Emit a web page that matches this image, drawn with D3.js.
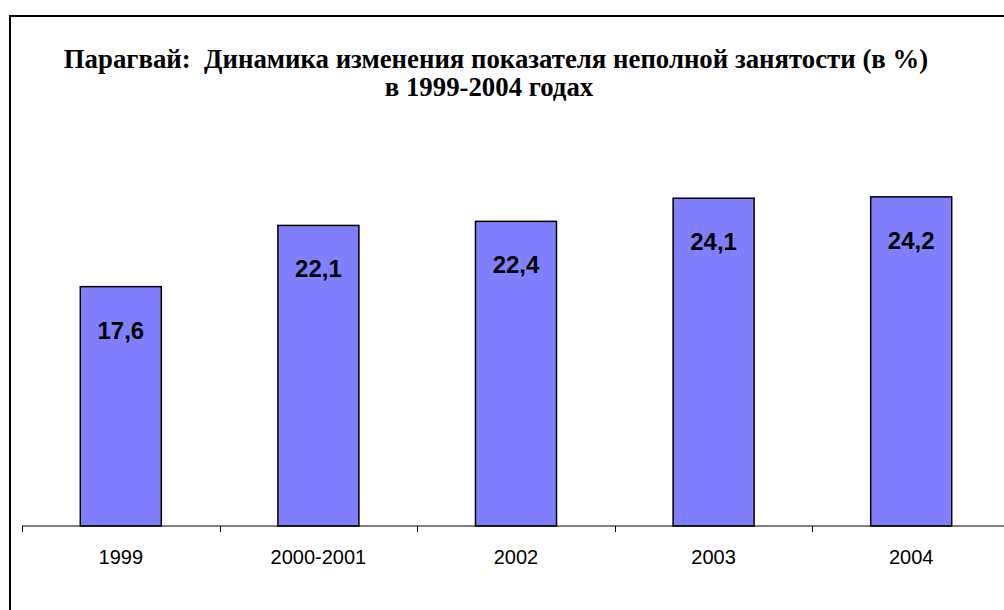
<!DOCTYPE html>
<html>
<head>
<meta charset="utf-8">
<script src="https://cdn.jsdelivr.net/npm/d3@7"></script>
<style>
  html, body { margin: 0; padding: 0; background: #fff; }
  svg { display: block; }
</style>
</head>
<body>
<svg id="chart" width="1004" height="610"></svg>
<script>
const categories = ["1999", "2000-2001", "2002", "2003", "2004"];
const values = [17.6, 22.1, 22.4, 24.1, 24.2];
const valueLabels = ["17,6", "22,1", "22,4", "24,1", "24,2"];
const titleLines = [
  "Парагвай:  Динамика изменения показателя неполной занятости (в %)",
  "в 1999-2004 годах"
];

const svg = d3.select("#chart");

// outer frame
svg.append("rect")
  .attr("x", 10).attr("y", 16)
  .attr("width", 1010).attr("height", 620)
  .attr("fill", "none").attr("stroke", "#000").attr("stroke-width", 2);

const x0 = 22, x1 = 1010, yBase = 526;
const x = d3.scaleBand().domain(categories).range([x0, x1]).paddingInner(0.59).paddingOuter(0.295);
const xb = d3.scaleBand().domain(categories).range([x0, x1]);
const y = d3.scaleLinear().domain([0, 30]).range([yBase, yBase - 408]);

// title
const titleY = [68, 96];
const titleX = [496, 489];
svg.selectAll("text.title")
  .data(titleLines)
  .join("text")
  .attr("class", "title")
  .attr("x", (d, i) => titleX[i])
  .attr("y", (d, i) => titleY[i])
  .attr("text-anchor", "middle")
  .attr("font-family", "'Liberation Serif', 'Times New Roman', serif")
  .attr("font-weight", "bold")
  .attr("font-size", 26.8)
  .style("white-space", "pre")
  .text(d => d);

// bars
svg.selectAll("rect.bar")
  .data(values)
  .join("rect")
  .attr("class", "bar")
  .attr("x", (d, i) => x(categories[i]))
  .attr("y", d => y(d))
  .attr("width", x.bandwidth())
  .attr("height", d => yBase - y(d))
  .attr("fill", "#8080FF")
  .attr("stroke", "#000")
  .attr("stroke-width", 1.5);

// value labels
svg.selectAll("text.vl")
  .data(values)
  .join("text")
  .attr("class", "vl")
  .attr("x", (d, i) => x(categories[i]) + x.bandwidth() / 2)
  .attr("y", d => y(d) + 52)
  .attr("text-anchor", "middle")
  .attr("font-family", "'Liberation Sans', Arial, sans-serif")
  .attr("font-weight", "bold")
  .attr("font-size", 24)
  .text((d, i) => valueLabels[i]);

// x axis line
svg.append("line")
  .attr("x1", x0).attr("x2", x1).attr("y1", yBase).attr("y2", yBase)
  .attr("stroke", "#000").attr("stroke-width", 1);
// boundary ticks
const bounds = categories.map(c => xb(c)).concat([x1]);
svg.selectAll("line.tk")
  .data(bounds)
  .join("line")
  .attr("class", "tk")
  .attr("x1", d => Math.round(d) + 0.5).attr("x2", d => Math.round(d) + 0.5)
  .attr("y1", yBase).attr("y2", yBase + 6)
  .attr("stroke", "#000").attr("stroke-width", 1);
// category labels
svg.selectAll("text.cat")
  .data(categories)
  .join("text")
  .attr("class", "cat")
  .attr("x", d => xb(d) + xb.bandwidth() / 2)
  .attr("y", 564)
  .attr("text-anchor", "middle")
  .attr("font-family", "'Liberation Sans', Arial, sans-serif")
  .attr("font-size", 20)
  .attr("fill", "#000")
  .text(d => d);
</script>
</body>
</html>
